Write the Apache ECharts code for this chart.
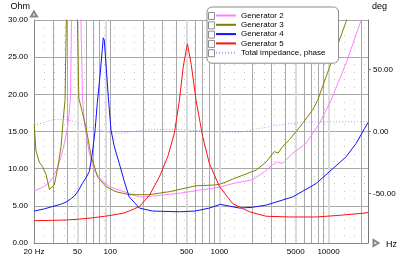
<!DOCTYPE html>
<html>
<head>
<meta charset="utf-8">
<script src="https://cdn.jsdelivr.net/npm/echarts@6/dist/echarts.min.js"></script>
<style>
html, body { margin: 0; padding: 0; background: #fff; }
#chart { width: 400px; height: 263px; }
</style>
</head>
<body>
<div id="chart"></div>
<script>
// frequency grid lines and labelled ticks (Hz)
var freqGrid = [20, 30, 40, 50, 60, 70, 80, 90, 100, 200, 300, 400, 500, 600, 700, 800, 900,
  1000, 2000, 3000, 4000, 5000, 6000, 7000, 8000, 9000, 10000, 20000];
var freqLight = [50, 90, 500, 1000, 5000, 10000];
var freqLabels = [20, 50, 100, 500, 1000, 5000, 10000];
var phaseTicks = [-50, 0, 50];

// Generator 2 (Ohm)
var gen2Freq = [20, 24, 27, 30, 33, 36, 38.5, 40.5, 42, 43.2, 44.1, 48.4, 53.8, 55.7, 57.5, 59.8, 64.2, 71.3,
  82.2, 97.9, 121, 185, 244, 430, 656, 1000, 1324, 2000, 2600, 3070, 3410, 3800, 4700, 6220, 8270,
  10540, 14500, 19900, 23000];
var gen2Ohm = [7.0, 7.5, 8.0, 8.9, 10.2, 12.0, 13.8, 15.5, 17.4, 19.5, 30, 70, 30, 19.5, 16.5, 14.8, 12.1, 9.8,
  8.5, 7.6, 7.1, 6.2, 6.3, 6.7, 7.1, 7.5, 8.0, 8.5, 9.6, 10.5, 10.9, 10.7, 12.1, 13.4, 16.1,
  19.2, 24.2, 30, 33];

// Generator 3 (Ohm)
var gen3Freq = [20.1, 20.8, 22.3, 23.9, 25.8, 27.7, 28.7, 30.7, 32.9, 35.4, 37.0, 38.5, 39.6, 44.7, 50.0, 51.5,
  59.8, 66.5, 76.4, 91.3, 112.8, 149, 228, 347, 611, 900, 1000, 1150, 1324, 2165, 2680, 3180, 3450,
  3800, 4385, 5800, 7150, 7950, 10540, 14500, 16000];
var gen3Ohm = [16.0, 12.5, 10.9, 10.3, 9.2, 7.2, 7.1, 7.8, 10.0, 13.0, 16.5, 19.2, 30, 70, 30, 19.5,
  15.6, 11.8, 8.9, 7.6, 6.9, 6.5, 6.5, 6.9, 7.7, 7.8, 7.9, 8.2, 8.6, 9.8, 10.9, 12.3, 12.1,
  13.0, 13.9, 16.1, 17.9, 19.2, 24.2, 29.8, 32];

// Generator 4 (Ohm)
var gen4Freq = [20.1, 25, 29.4, 35, 39.3, 44, 46.8, 50.9, 55.4, 60, 64.2, 68.4, 72.4, 76.0, 80.9, 84.4, 86.3,
  88.1, 91.9, 95.9, 101.5, 108.8, 120.9, 134.4, 149, 185, 243, 430, 600, 809, 1021, 1200, 1525, 2000,
  2680, 4700, 7700, 10950, 14500, 17900, 21400, 23000];
var gen4Ohm = [4.3, 4.6, 4.9, 5.2, 5.5, 6.0, 6.3, 7.0, 8.0, 8.8, 9.6, 12.0, 15.0, 18.8, 22.8, 26.0, 27.6,
  27.3, 23.5, 19.7, 15.2, 13.0, 10.7, 8.3, 6.2, 4.7, 4.3, 4.2, 4.3, 4.7, 5.2, 5.0, 4.7, 4.8,
  5.1, 6.2, 8.0, 10.0, 11.6, 13.4, 15.4, 16.2];

// Generator 5 (Ohm)
var gen5Freq = [20.1, 30, 40, 51, 70, 100, 130, 149, 185, 228, 282, 336, 387, 430, 467, 509, 552, 611, 703,
  809, 1000, 1324, 1884, 2680, 4385, 7700, 12000, 20650, 23000];
var gen5Ohm = [3.0, 3.05, 3.1, 3.2, 3.4, 3.7, 4.0, 4.3, 4.9, 6.4, 8.9, 11.6, 14.8, 19.2, 23.8, 26.8, 24.0, 19.2, 14.3,
  10.7, 7.6, 5.3, 4.2, 3.6, 3.5, 3.5, 3.7, 4.0, 4.1];

// Total impedance phase (deg)
var phaseFreq = [20.1, 25, 30, 37, 45, 55, 65, 80, 100, 130, 160, 230, 430, 800, 1200, 1600, 2700, 4400,
  7700, 20000, 23000];
var phaseDeg = [5, 7.5, 9.5, 10, 8.5, 6, 3.5, 1, -1, -1.5, 0, 1.5, 1.8, 0, -0.5, -0.5, 3.5, 6.5,
  7.8, 7.8, 7.8];

function pairs(f, v) {
  return f.map(function (x, i) { return [x, v[i]]; });
}

var font = 'Liberation Sans';
var chart = echarts.init(document.getElementById('chart'));

function lineSeries(name, data, color, axis, dotted) {
  return {
    name: name,
    type: 'line',
    data: data,
    yAxisIndex: axis,
    symbol: 'none',
    clip: true,
    animation: false,
    color: color,
    lineStyle: { width: 1, color: color, type: dotted ? [1, 2] : 'solid' }
  };
}

var option = {
  animation: false,
  textStyle: { fontFamily: font },
  grid: { left: 34, right: 32, top: 20, bottom: 20, outerBoundsMode: 'none' },
  legend: {
    orient: 'vertical',
    left: 207,
    top: 7,
    padding: [4, 13, 6, 8],
    itemWidth: 20,
    itemHeight: 9,
    itemGap: 0.3,
    backgroundColor: '#fff',
    borderColor: '#8c8c8c',
    borderWidth: 1,
    borderRadius: 5,
    selectedMode: false,
    itemStyle: { opacity: 0 },
    textStyle: { fontSize: 8, color: '#000', fontFamily: font, lineHeight: 9 },
    data: ['Generator 2', 'Generator 3', 'Generator 4', 'Generator 5', 'Total impedance, phase']
  },
  graphic: [0, 1, 2, 3, 4].map(function (i) {
    return {
      type: 'rect', left: 208, top: 12 + i * 9.3, z: 100,
      shape: { width: 6, height: 7 },
      style: { fill: '#fff', stroke: '#8c8c8c', lineWidth: 1 }
    };
  }),
  xAxis: [
    {
      type: 'log',
      logBase: 10,
      min: 20,
      max: 23000,
      name: 'Hz',
      nameLocation: 'end',
      nameGap: 18,
      nameTextStyle: { fontSize: 9, color: '#000', fontFamily: font, verticalAlign: 'top', padding: [-3, 0, 0, 0] },
      axisLine: {
        show: true,
        lineStyle: { color: '#888' },
        symbol: ['none', 'emptyTriangle'],
        symbolSize: [6, 5],
        symbolOffset: [0, 8]
      },
      axisTick: { show: false, customValues: freqGrid },
      axisLabel: {
        customValues: freqLabels,
        fontSize: 8,
        color: '#000',
        fontFamily: font,
        margin: 5,
        formatter: function (v) { return v === 20 ? '20 Hz' : String(v); }
      },
      splitLine: { show: true, lineStyle: { color: '#a8a8a8', width: 1 } }
    },
    {
      // light highlight grid lines
      type: 'log',
      logBase: 10,
      min: 20,
      max: 23000,
      position: 'bottom',
      axisLine: { show: false },
      axisTick: { show: false, customValues: freqLight },
      axisLabel: { show: false },
      splitLine: { show: true, lineStyle: { color: '#dcdcdc', width: 2 } }
    }
  ],
  yAxis: [
    {
      type: 'value',
      min: 0,
      max: 30,
      interval: 5,
      position: 'left',
      name: 'Ohm',
      nameLocation: 'end',
      nameGap: 9,
      nameTextStyle: { fontSize: 9, color: '#000', fontFamily: font, align: 'right', padding: [0, 4, 0, 0] },
      axisLine: {
        show: true,
        lineStyle: { color: '#888' },
        symbol: ['none', 'emptyTriangle'],
        symbolSize: [6, 5],
        symbolOffset: [0, 6]
      },
      axisTick: { show: false },
      axisLabel: {
        fontSize: 8, color: '#000', fontFamily: font, margin: 6,
        formatter: function (v) { return v.toFixed(2); }
      },
      splitLine: { show: true, lineStyle: { color: '#a8a8a8', width: 1 } },
      minorTick: { show: false, splitNumber: 5 },
      minorSplitLine: { show: true, lineStyle: { color: '#c4c4c4', type: [1, 9] } }
    },
    {
      type: 'value',
      min: -90,
      max: 90,
      position: 'right',
      name: 'deg',
      nameLocation: 'end',
      nameGap: 9,
      nameTextStyle: { fontSize: 9, color: '#000', fontFamily: font, align: 'left', padding: [0, 0, 0, 4] },
      axisLine: { show: true, lineStyle: { color: '#777' } },
      axisTick: { show: true, length: 3, customValues: phaseTicks, lineStyle: { color: '#777' } },
      axisLabel: {
        customValues: phaseTicks,
        fontSize: 8, color: '#000', fontFamily: font, margin: 5,
        formatter: function (v) { return v.toFixed(2); }
      },
      splitLine: { show: false }
    }
  ],
  series: [
    lineSeries('Generator 2', pairs(gen2Freq, gen2Ohm), '#ff80ff', 0, false),
    lineSeries('Generator 3', pairs(gen3Freq, gen3Ohm), '#808000', 0, false),
    lineSeries('Generator 4', pairs(gen4Freq, gen4Ohm), '#1010ff', 0, false),
    lineSeries('Generator 5', pairs(gen5Freq, gen5Ohm), '#ff1010', 0, false),
    lineSeries('Total impedance, phase', pairs(phaseFreq, phaseDeg), '#a0a0ff', 1, true)
  ]
};

chart.setOption(option);
</script>
</body>
</html>
